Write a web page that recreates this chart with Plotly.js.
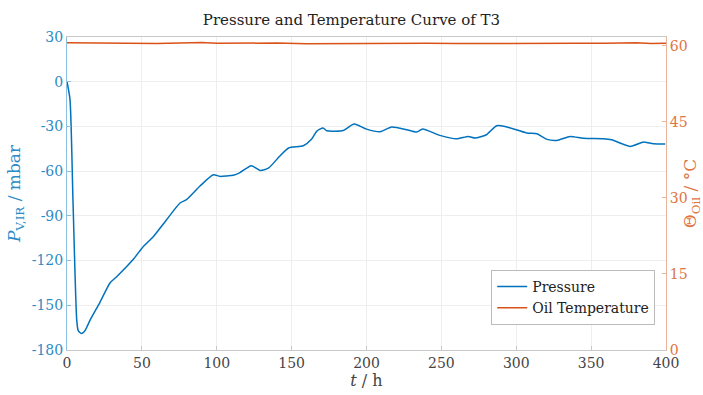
<!DOCTYPE html>
<html>
<head>
<meta charset="utf-8">
<script src="https://cdn.plot.ly/plotly-3.0.1.min.js"></script>
<style>html,body{margin:0;padding:0;background:#fff;}#chart{width:703px;height:395px;}</style>
</head>
<body>
<div id="chart"></div>
<script>
// Pressure curve (time in h, pressure in mbar)
const pressureTime = [0, 2, 4, 6.5, 7.5, 9.8, 12, 15.4, 22, 28.7, 33, 44, 51, 57.6, 66.5, 75.5, 80, 88.8, 97.7, 102, 107, 111, 115.5, 123, 129, 134.5, 142, 148, 157.8, 163.4, 166.7, 171, 173.4, 184.5, 191.7, 200, 209, 216.8, 226.8, 233.5, 237.5, 249, 260, 268, 272.5, 280, 286.9, 292.5, 307, 313.7, 320, 327, 336, 344.8, 358, 363.7, 376, 385, 388, 391.7, 399.5];
const pressureValues = [0, -12, -80, -160, -167, -169, -167, -160, -148, -135, -131, -119.5, -110.5, -104, -92.6, -81.4, -79, -70, -62.4, -63.5, -63.2, -62.8, -61, -56.3, -59.5, -58, -50, -44.5, -43, -38.5, -33.3, -31, -32.9, -32.7, -28.4, -31.8, -33.6, -30.4, -32.2, -33.8, -31.8, -36, -38.3, -36.7, -37.8, -35.6, -29.5, -30, -34.4, -34.9, -38.5, -39.4, -36.7, -38, -38.3, -39, -43.4, -40.5, -41, -41.6, -41.8];
// Oil temperature (°C)
const oilTime = [0, 20, 40, 60, 80, 90, 100, 120, 140, 160, 180, 200, 220, 240, 260, 280, 300, 320, 340, 360, 375, 380, 390, 400];
const oilValues = [60.6, 60.5, 60.5, 60.45, 60.55, 60.65, 60.5, 60.5, 60.55, 60.4, 60.45, 60.5, 60.45, 60.5, 60.45, 60.5, 60.5, 60.55, 60.5, 60.5, 60.5, 60.6, 60.45, 60.5];

const xTicks = [0, 50, 100, 150, 200, 250, 300, 350, 400];
const leftTicks = [-180, -150, -120, -90, -60, -30, 0, 30];
const rightTicks = [0, 15, 30, 45, 60];

const blue = '#0072BD', orange = '#D95319';
const font = '"DejaVu Serif", serif';

const traces = [
  {x: pressureTime, y: pressureValues, type: 'scatter', mode: 'lines', name: 'Pressure',
   line: {color: blue, width: 1.5, shape: 'spline', smoothing: 0.6}, yaxis: 'y'},
  {x: oilTime, y: oilValues, type: 'scatter', mode: 'lines', name: 'Oil Temperature',
   line: {color: orange, width: 1.5}, yaxis: 'y2'}
];

const layout = {
  width: 703, height: 395,
  margin: {l: 67, r: 37, t: 37, b: 45},
  paper_bgcolor: '#fff', plot_bgcolor: '#fff',
  font: {family: font, size: 14, color: '#333'},
  title: {text: 'Pressure and Temperature Curve of T3', font: {family: font, size: 15, color: '#222'}, x: 0.5, xanchor: 'center', y: 0.95, yanchor: 'middle'},
  showlegend: true,
  legend: {x: 0.982, y: 0.08, xanchor: 'right', yanchor: 'bottom', bgcolor: '#fff', bordercolor: '#bbb', borderwidth: 1,
           font: {family: font, size: 14, color: '#222'}, tracegroupgap: 0, itemwidth: 30},
  xaxis: {range: [0, 400], tickvals: xTicks, ticktext: xTicks.map(String),
          showgrid: true, gridcolor: '#eeeeee', zeroline: false,
          showline: true, linecolor: '#c8c8c8', linewidth: 1, mirror: true,
          ticks: 'inside', ticklen: 4, tickcolor: '#c8c8c8',
          tickfont: {family: font, size: 14, color: '#444'},
          title: {text: '<i>t</i> / h', font: {family: font, size: 16, color: '#444'}, standoff: 4}},
  yaxis: {range: [-180, 30], tickvals: leftTicks, ticktext: leftTicks.map(String),
          showgrid: true, gridcolor: '#eeeeee', zeroline: false,
          showline: true, linecolor: '#8cc0e0', linewidth: 1,
          ticks: 'inside', ticklen: 4, tickcolor: '#8cc0e0',
          tickfont: {family: font, size: 14, color: '#2c8ac6'},
          title: {text: '<i>P</i><sub>V,IR</sub> / mbar', font: {family: font, size: 17, color: '#2c8ac6'}, standoff: 6}},
  yaxis2: {range: [0, 61.74], tickvals: rightTicks, ticktext: rightTicks.map(String),
           overlaying: 'y', side: 'right', showgrid: false, zeroline: false,
           showline: true, linecolor: '#eab39c', linewidth: 1,
           ticks: 'inside', ticklen: 4, tickcolor: '#eab39c',
           tickfont: {family: font, size: 14, color: '#e0743f'},
           title: {text: 'Θ<sub>Oil</sub> / °C', font: {family: font, size: 17, color: '#e0743f'}, standoff: 6}}
};

Plotly.newPlot('chart', traces, layout, {displayModeBar: false, staticPlot: true});
</script>
</body>
</html>
